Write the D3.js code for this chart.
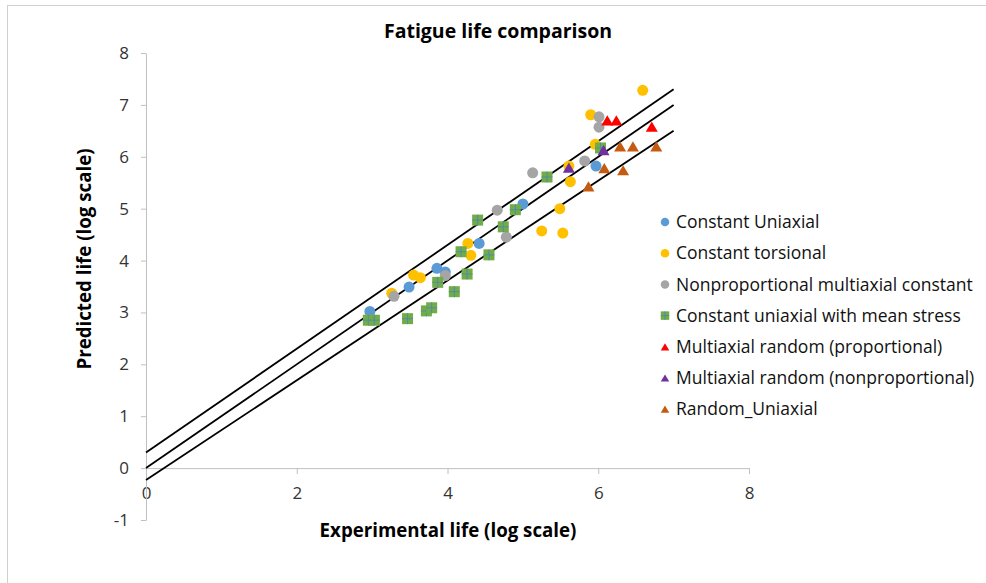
<!DOCTYPE html>
<html>
<head>
<meta charset="utf-8">
<script src="https://cdn.jsdelivr.net/npm/d3@7"></script>
<style>
  body { margin: 0; background: #fff; }
  svg { display: block; font-family: "Open Sans", Lato, sans-serif; }
</style>
</head>
<body>
<script>
// series data: [experimental, predicted] in log scale
const constantUniaxial = [[2.97, 3.02], [3.49, 3.49], [3.86, 3.85], [3.97, 3.78], [4.42, 4.33], [5.0, 5.09], [5.97, 5.82]];
const constantTorsional = [[3.26, 3.37], [3.55, 3.72], [3.64, 3.67], [4.27, 4.33], [4.31, 4.10], [5.25, 4.57], [5.49, 5.0],
  [5.53, 4.53], [5.61, 5.82], [5.63, 5.52], [5.90, 6.81], [5.96, 6.24], [6.59, 7.28]];
const nonpropConstant = [[3.29, 3.31], [3.97, 3.71], [4.66, 4.97], [4.78, 4.45], [5.13, 5.69], [5.82, 5.92], [6.01, 6.77], [6.01, 6.57]];
const meanStress = [[2.95, 2.85], [3.03, 2.85], [3.47, 2.88], [3.72, 3.03], [3.79, 3.09], [3.87, 3.58], [4.09, 3.40], [4.18, 4.17],
  [4.26, 3.74], [4.40, 4.78], [4.55, 4.11], [4.74, 4.65], [4.90, 4.98], [5.32, 5.61], [6.03, 6.17]];
const randomProportional = [[6.12, 6.70], [6.24, 6.70], [6.71, 6.58]];
const randomNonprop = [[5.61, 5.79], [6.07, 6.13]];
const randomUniaxial = [[6.29, 6.20], [6.46, 6.20], [6.77, 6.20], [6.08, 5.78], [6.33, 5.74], [5.87, 5.43]];

// reference lines (bounds and perfect fit)
const boundLines = [
  [[0, 0.3], [7, 7.3]],
  [[0, 0], [7, 7]],
  [[0, -0.23], [7, 6.5]]
];

const xTicks = [0, 2, 4, 6, 8];
const yTicks = [-1, 0, 1, 2, 3, 4, 5, 6, 7, 8];

const series = [
  {name: "Constant Uniaxial", data: constantUniaxial, color: "#5B9BD5", shape: "circle"},
  {name: "Constant torsional", data: constantTorsional, color: "#FFC000", shape: "circle"},
  {name: "Nonproportional multiaxial constant", data: nonpropConstant, color: "#A5A5A5", shape: "circle"},
  {name: "Constant uniaxial with mean stress", data: meanStress, color: "#70AD47", shape: "square"},
  {name: "Multiaxial random (proportional)", data: randomProportional, color: "#FF0000", shape: "triangle"},
  {name: "Multiaxial random (nonproportional)", data: randomNonprop, color: "#7030A0", shape: "triangle"},
  {name: "Random_Uniaxial", data: randomUniaxial, color: "#C55A11", shape: "triangle"}
];

const W = 986, H = 583;
const svg = d3.select("body").append("svg")
  .attr("width", W)
  .attr("height", H);

// chart frame
svg.append("rect")
  .attr("x", 7.5).attr("y", 5.5)
  .attr("width", W).attr("height", H)
  .attr("fill", "none")
  .attr("stroke", "#d0d0d0");

let x = d3.scaleLinear().domain([0, 8]).range([146, 749]);
let y = d3.scaleLinear().domain([-1, 8]).range([520, 53]);

let fmt = function (d) { return String(d); };
let xAxis = d3.axisBottom(x).tickValues(xTicks).tickFormat(fmt).tickSize(6).tickSizeOuter(0).tickPadding(13);
let yAxis = d3.axisLeft(y).tickValues(yTicks).tickFormat(fmt).tickSize(5).tickSizeOuter(0).tickPadding(12);

let gx = svg.append("g")
  .attr("class", "x axis")
  .attr("transform", "translate(0," + y(0) + ")")
  .call(xAxis);

let gy = svg.append("g")
  .attr("class", "y axis")
  .attr("transform", "translate(" + x(0) + ",0)")
  .call(yAxis);

[gx, gy].forEach(function (g) {
  g.selectAll("path, line").attr("stroke", "#c0c0c0");
  g.selectAll("text")
    .attr("fill", "#333")
    .style("font-size", "17px")
    .style("font-family", "\"Open Sans\", sans-serif");
});
gx.selectAll("text").attr("dy", "0.72em");

// bound lines
let line = d3.line()
  .x(function (d) { return x(d[0]); })
  .y(function (d) { return y(d[1]); });

svg.append("g").selectAll("path")
  .data(boundLines)
  .enter().append("path")
  .attr("d", line)
  .attr("fill", "none")
  .attr("stroke", "#000")
  .attr("stroke-width", 1.8);

function drawMarker(sel, shape, color, size) {
  if (shape === "circle") {
    sel.append("circle").attr("r", size / 2).attr("fill", color);
  } else if (shape === "square") {
    sel.append("rect")
      .attr("x", -size / 2).attr("y", -size / 2)
      .attr("width", size).attr("height", size)
      .attr("fill", color);
    sel.append("path")
      .attr("d", "M" + (-size / 2) + ",0H" + (size / 2) + "M0," + (-size / 2) + "V" + (size / 2))
      .attr("stroke", "#4f81bd")
      .attr("stroke-opacity", 0.8)
      .attr("stroke-width", 1);
  } else {
    let h = size * 0.85;
    sel.append("path")
      .attr("d", "M0," + (-h / 2) + "L" + (size / 2) + "," + (h / 2) + "L" + (-size / 2) + "," + (h / 2) + "Z")
      .attr("fill", color);
  }
}

// points
series.forEach(function (s) {
  let pts = svg.append("g").selectAll("g")
    .data(s.data)
    .enter().append("g")
    .attr("transform", function (d) {
      return "translate(" + x(d[0]) + "," + y(d[1]) + ")";
    });
  drawMarker(pts, s.shape, s.color, s.shape === "triangle" ? 12 : 11);
});

// title and axis titles
svg.append("text")
  .attr("x", 498).attr("y", 38)
  .attr("text-anchor", "middle")
  .style("font-size", "19.5px")
  .style("font-weight", "bold")
  .text("Fatigue life comparison");

svg.append("text")
  .attr("x", 448).attr("y", 537)
  .attr("text-anchor", "middle")
  .style("font-size", "18.7px")
  .style("font-weight", "bold")
  .text("Experimental life (log scale)");

svg.append("text")
  .attr("transform", "translate(91,259) rotate(-90)")
  .attr("text-anchor", "middle")
  .style("font-size", "18.7px")
  .style("font-weight", "bold")
  .text("Predicted life (log scale)");

// legend
let legend = svg.selectAll(".legend")
  .data(series)
  .enter().append("g")
  .attr("class", "legend")
  .attr("transform", function (d, i) {
    return "translate(665," + (222 + i * 31.2) + ")";
  });

legend.each(function (d) {
  drawMarker(d3.select(this), d.shape, d.color, 8.5);
});

legend.append("text")
  .attr("x", 11)
  .attr("dy", "0.35em")
  .attr("fill", "#111")
  .style("font-size", "17.5px")
  .text(function (d) { return d.name; });
</script>
</body>
</html>
